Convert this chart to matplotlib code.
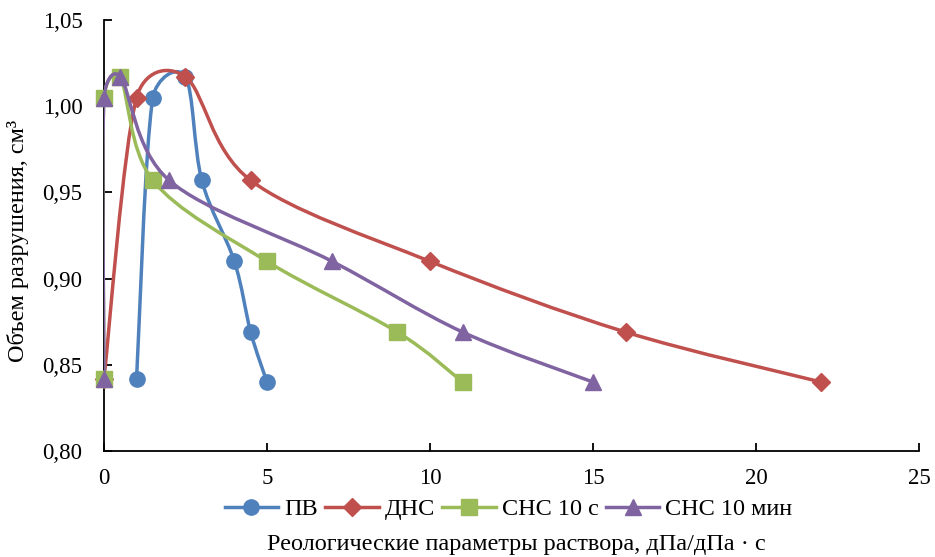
import numpy as np
import matplotlib
matplotlib.use("Agg")
import matplotlib.pyplot as plt
from matplotlib.path import Path
from matplotlib.patches import PathPatch
from matplotlib.lines import Line2D

# data
y_vals = [0.842, 1.005, 1.017, 0.957, 0.910, 0.869, 0.840]
x_pv = [1.0, 1.5, 2.5, 3.0, 4.0, 4.5, 5.0]
x_dns = [0.0, 1.0, 2.5, 4.5, 10.0, 16.0, 22.0]
x_sns10s = [0.0, 0.0, 0.5, 1.5, 5.0, 9.0, 11.0]
x_sns10m = [0.0, 0.0, 0.5, 2.0, 7.0, 11.0, 15.0]

series_names = ["ПВ", "ДНС", "СНС 10 с", "СНС 10 мин"]
colors = ["#4F81BD", "#C0504D", "#9BBB59", "#8064A2"]
markers = ["o", "D", "s", "^"]
marker_sizes = [11, 9, 11, 11]

x_ticks = [0, 5, 10, 15, 20, 25]
y_ticks = [0.80, 0.85, 0.90, 0.95, 1.00, 1.05]

plt.rcParams["font.family"] = ["Liberation Serif", "DejaVu Serif"]


def smooth_path(ax, xs, ys):
    # smoothed line like Excel: catmull-rom bezier (1/6 of the chord),
    # arm clamped to half the segment length, done in screen pixels
    pts = ax.transData.transform(np.column_stack([xs, ys]))
    n = len(pts)
    verts = [pts[0]]
    codes = [Path.MOVETO]
    for i in range(n - 1):
        p0 = pts[i - 1] if i > 0 else pts[i]
        p3 = pts[i + 2] if i + 2 < n else pts[i + 1]
        p1, p2 = pts[i], pts[i + 1]
        half = np.hypot(*(p2 - p1)) / 2.0
        a1 = (p2 - p0) / 6.0
        a2 = (p3 - p1) / 6.0
        for a in (a1, a2):
            ln = np.hypot(*a)
            if ln > half and ln > 0:
                a *= half / ln
        verts += [p1 + a1, p2 - a2, p2]
        codes += [Path.CURVE4] * 3
    verts = ax.transData.inverted().transform(np.array(verts))
    return Path(verts, codes)


fig = plt.figure(figsize=(9.35, 5.57), dpi=100)
ax = fig.add_axes([0.1112, 0.1903, 0.8717, 0.7737])
ax.set_xlim(0, 25)
ax.set_ylim(0.80, 1.05)

all_x = [x_pv, x_dns, x_sns10s, x_sns10m]
handles = []
for k, (xs, name, c, m, ms) in enumerate(
        zip(all_x, series_names, colors, markers, marker_sizes)):
    patch = PathPatch(smooth_path(ax, xs, y_vals), facecolor="none",
                      edgecolor=c, lw=2.5, capstyle="round",
                      joinstyle="round", zorder=3 + 2 * k)
    ax.add_patch(patch)
    ax.plot(xs, y_vals, linestyle="none", marker=m, markersize=ms,
            color=c, markeredgecolor=c, zorder=4 + 2 * k, clip_on=False)
    handles.append(Line2D([], [], color=c, lw=2.5, marker=m,
                          markersize=ms, label=name))

ax.set_xticks(x_ticks)
ax.set_yticks(y_ticks)
ax.set_yticklabels([f"{v:.2f}".replace(".", ",") for v in y_ticks])
ax.tick_params(direction="in", length=6, width=1.3, labelsize=16.5)
ax.tick_params(axis="x", pad=12)
ax.tick_params(axis="y", pad=15.5)
for s in ["top", "right"]:
    ax.spines[s].set_visible(False)
for s in ["left", "bottom"]:
    ax.spines[s].set_linewidth(1.3)

fig.legend(handles=handles, loc="center", bbox_to_anchor=(0.544, 0.086),
           ncol=4, frameon=False, fontsize=17.5, handlelength=2.2,
           handletextpad=0.25, columnspacing=0.3)
fig.text(0.552, 0.023, "Реологические параметры раствора, дПа/дПа · с",
         ha="center", va="center", fontsize=17.5)
fig.text(0.019, 0.567, "Объем разрушения, см³", rotation=90,
         ha="center", va="center", fontsize=17.5)

fig.savefig("out.png", dpi=100)
